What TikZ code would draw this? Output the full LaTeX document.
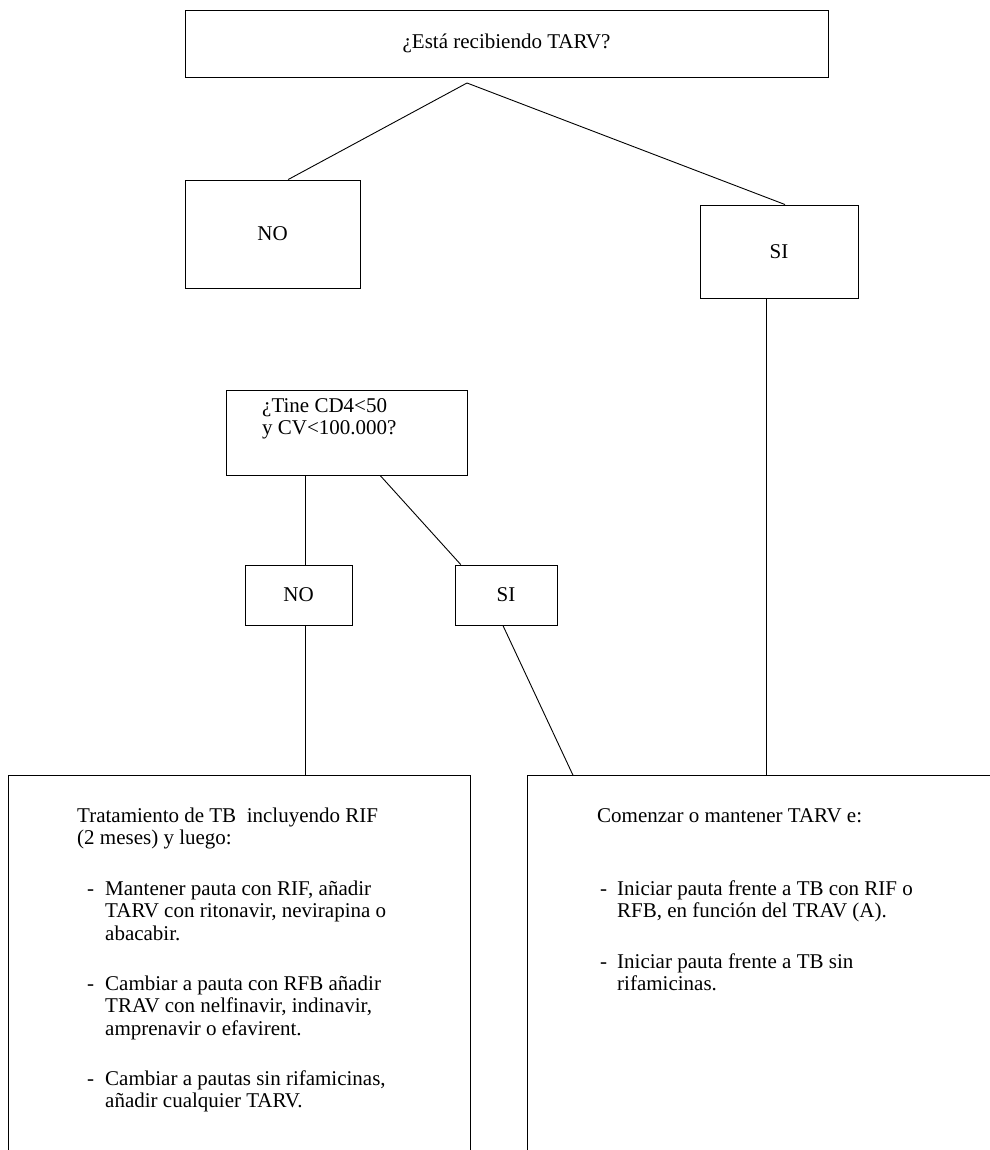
\documentclass[tikz,border=0pt]{standalone}
\usepackage{fontspec}
\setmainfont{Liberation Serif}
\usetikzlibrary{calc}
\newcommand\fs{\fontsize{21}{22.5}\selectfont}
\begin{document}
\begin{tikzpicture}[x=1pt,y=-1pt,
  box/.style={draw, line width=0.9pt, inner sep=0pt, font=\fs},
  ln/.style={line width=0.9pt},
  txt/.style={inner sep=0pt, anchor=north west, align=left, font=\fs}]
\useasboundingbox (0,0) rectangle (989,1150);
\fill[white] (0,0) rectangle (989,1150);

% boxes
\node[box, minimum width=643pt, minimum height=67pt] (q1) at (506.5,43.5) {¿Está recibiendo TARV?};
\coordinate (apex) at (467,83);
\node[box, minimum width=175pt, minimum height=108pt] (no1) at (272.5,234) {NO};
\node[box, minimum width=158pt, minimum height=93pt] (si1) at (779,251.5) {SI};
\node[box, minimum width=241pt, minimum height=85pt] (q2) at (346.5,432.5) {};
\node[txt] (q2t) at (262,396.25) {\strut¿Tine CD4<50\\y CV<100.000?};
\node[box, minimum width=107pt, minimum height=60pt] (no2) at (298.5,595) {NO};
\node[box, minimum width=102pt, minimum height=60pt] (si2) at (506,595) {SI};

% open bottom boxes
\node[inner sep=0pt, minimum width=462pt, minimum height=380pt, anchor=north west] (L) at (8,775) {};
\node[inner sep=0pt, minimum width=463pt, minimum height=380pt, anchor=north west] (R) at (527,775) {};
\draw[ln] (L.south west) -- (L.north west) -- (L.north east) -- (L.south east);
\draw[ln] (R.south west) -- (R.north west) -- (R.north east);

% connectors
\draw[ln] ($(no1.north west)!0.589!(no1.north east)$) -- (apex) -- ($(si1.north west)!0.538!(si1.north east)$);
\coordinate (s1) at ($(si1.south west)!0.424!(si1.south east)$);
\draw[ln] (s1) -- (s1 |- R.north);
\coordinate (c1) at ($(q2.south west)!0.332!(q2.south east)$);
\draw[ln] (c1) -- (c1 |- no2.north);
\draw[ln] ($(q2.south west)!0.639!(q2.south east)$) -- ($(si2.north west)!0.06!(si2.north east)$);
\draw[ln] (c1 |- no2.south) -- (c1 |- L.north);
\draw[ln] ($(si2.south west)!0.47!(si2.south east)$) -- ($(R.north west)!0.099!(R.north east)$);

% left texts
\node[txt] (lt) at (77,806.25) {\strut Tratamiento de TB\ \ incluyendo RIF\\(2 meses) y luego:};
\node[txt] (ld1) at (87,879.25) {\strut-};
\node[txt] (lb1) at (105,879.25) {\strut Mantener pauta con RIF, añadir\\TARV con ritonavir, nevirapina o\\abacabir.};
\node[txt] (ld2) at (87,974.25) {\strut-};
\node[txt] (lb2) at (105,974.25) {\strut Cambiar a pauta con RFB añadir\\TRAV con nelfinavir, indinavir,\\amprenavir o efavirent.};
\node[txt] (ld3) at (87,1069.25) {\strut-};
\node[txt] (lb3) at (105,1069.25) {\strut Cambiar a pautas sin rifamicinas,\\añadir cualquier TARV.};

% right texts
\node[txt] (rt) at (597,806.25) {\strut Comenzar o mantener TARV e:};
\node[txt] (rd1) at (600,879.25) {\strut-};
\node[txt] (rb1) at (617,879.25) {\strut Iniciar pauta frente a TB con RIF o\\RFB, en función del TRAV (A).};
\node[txt] (rd2) at (600,952.25) {\strut-};
\node[txt] (rb2) at (617,952.25) {\strut Iniciar pauta frente a TB sin\\rifamicinas.};
\end{tikzpicture}
\end{document}
